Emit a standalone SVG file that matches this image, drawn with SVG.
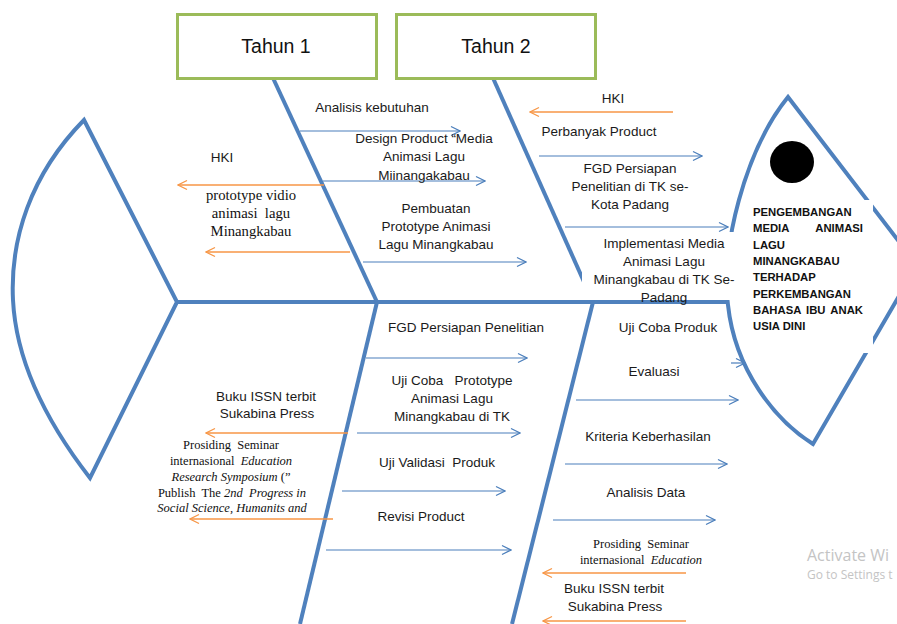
<svg xmlns="http://www.w3.org/2000/svg" width="897" height="624" viewBox="0 0 897 624">
<defs>
<style>
.bone{fill:none;stroke:#4F81BD;stroke-width:4;stroke-linejoin:miter}
.ab{fill:none;stroke:#4a7ebb;stroke-width:1.2}
.ao{fill:none;stroke:#F79646;stroke-width:1.3}
.box{fill:#fff;stroke:#9BBB59;stroke-width:3}
.s{font-family:"Liberation Sans",Arial,sans-serif;font-size:13.5px;fill:#1a1a1a;text-anchor:middle;white-space:pre}
.t{font-family:"Liberation Serif","Times New Roman",serif;font-size:14.7px;fill:#111;text-anchor:middle;white-space:pre}
.p{font-family:"Liberation Serif","Times New Roman",serif;font-size:12.5px;fill:#111;text-anchor:middle;white-space:pre}
.i{font-style:italic}
.h{font-family:"Liberation Sans",Arial,sans-serif;font-size:11.3px;font-weight:bold;fill:#111}
.big{font-family:"Liberation Sans",Arial,sans-serif;font-size:19.5px;fill:#111;text-anchor:middle}
.wm{font-family:"Open Sans","Liberation Sans",sans-serif;fill:#c4c4c4}
</style>
<marker id="mb" markerUnits="userSpaceOnUse" markerWidth="12" markerHeight="12" viewBox="-11 -6 12 12" refX="0" refY="0" orient="auto"><path d="M-9,-4.5 L0,0 L-9,4.5" fill="none" stroke="#4a7ebb" stroke-width="1.2"/></marker>
<marker id="mo" markerUnits="userSpaceOnUse" markerWidth="12" markerHeight="12" viewBox="-11 -6 12 12" refX="0" refY="0" orient="auto"><path d="M-9,-4.5 L0,0 L-9,4.5" fill="none" stroke="#F79646" stroke-width="1.3"/></marker>
</defs>
<rect width="897" height="624" fill="#fff"/>

<g id="tail">
<path class="bone" d="M84,120 C30,175 10,240 13,300 C16,360 45,420 90,478 L177,302 Z"/>
</g>

<g id="connectors">
<line class="bone" x1="175" y1="302" x2="729" y2="302"/>
<line class="bone" x1="273" y1="78" x2="377" y2="302"/>
<line class="bone" x1="377" y1="302" x2="300" y2="624"/>
<line class="bone" x1="493" y1="78" x2="593" y2="302"/>
<line class="bone" x1="593" y1="302" x2="512" y2="624"/>
<line class="ab" x1="300" y1="131" x2="460" y2="131" marker-end="url(#mb)"/>
<line class="ab" x1="323" y1="181" x2="485" y2="181" marker-end="url(#mb)"/>
<line class="ab" x1="363" y1="262" x2="526" y2="262" marker-end="url(#mb)"/>
<line class="ao" x1="324" y1="185" x2="178" y2="185" marker-end="url(#mo)"/>
<line class="ao" x1="350" y1="252" x2="206" y2="252" marker-end="url(#mo)"/>
<line class="ao" x1="673" y1="112" x2="530" y2="112" marker-end="url(#mo)"/>
<line class="ab" x1="539" y1="156" x2="702" y2="156" marker-end="url(#mb)"/>
<line class="ab" x1="565" y1="227" x2="728" y2="227" marker-end="url(#mb)"/>
<line class="ab" x1="366" y1="358" x2="527" y2="358" marker-end="url(#mb)"/>
<line class="ab" x1="357" y1="433" x2="520" y2="433" marker-end="url(#mb)"/>
<line class="ab" x1="342" y1="491" x2="505" y2="491" marker-end="url(#mb)"/>
<line class="ab" x1="326" y1="550" x2="511" y2="550" marker-end="url(#mb)"/>
<line class="ao" x1="348" y1="433" x2="206" y2="433" marker-end="url(#mo)"/>
<line class="ao" x1="333" y1="519" x2="190" y2="519" marker-end="url(#mo)"/>
<line class="ab" x1="731" y1="363" x2="745" y2="363" marker-end="url(#mb)"/>
<line class="ab" x1="576" y1="400" x2="738" y2="400" marker-end="url(#mb)"/>
<line class="ab" x1="565" y1="464" x2="727" y2="464" marker-end="url(#mb)"/>
<line class="ab" x1="553" y1="520" x2="715" y2="520" marker-end="url(#mb)"/>
<line class="ao" x1="686" y1="573" x2="543" y2="573" marker-end="url(#mo)"/>
<line class="ao" x1="686" y1="621" x2="543" y2="621" marker-end="url(#mo)"/>
</g>

<g id="tahun1">
<rect class="box" x="177.5" y="14.5" width="199" height="64"/>
<text class="big" x="276" y="53">Tahun 1</text>
</g>
<g id="tahun2">
<rect class="box" x="396.5" y="14.5" width="199" height="64"/>
<text class="big" x="496" y="53">Tahun 2</text>
</g>

<g id="head">
<path class="bone" d="M788,97 C745,150 720,250 728,305 C735,370 775,420 813,444 L917,265 Z"/>
<ellipse cx="792" cy="162" rx="22" ry="21" fill="#000"/>
<rect x="742" y="200" width="131" height="153" fill="#fff"/>
<text class="h" x="753" y="216">PENGEMBANGAN</text>
<text class="h" x="753" y="232">MEDIA</text>
<text class="h" x="863" y="232" text-anchor="end">ANIMASI</text>
<text class="h" x="753" y="249">LAGU</text>
<text class="h" x="753" y="265">MINANGKABAU</text>
<text class="h" x="753" y="281">TERHADAP</text>
<text class="h" x="753" y="298">PERKEMBANGAN</text>
<text class="h" x="753" y="314">BAHASA</text>
<text class="h" x="806" y="314">IBU</text>
<text class="h" x="863" y="314" text-anchor="end">ANAK</text>
<text class="h" x="753" y="330">USIA DINI</text>
</g>

<g id="t1-upper">
<text class="s" x="372" y="111.5">Analisis kebutuhan</text>
<text class="s" x="424" y="143">Design Product “Media</text>
<text class="s" x="424" y="161">Animasi Lagu</text>
<text class="s" x="424" y="180">Miinangakabau</text>
<text class="s" x="436" y="213">Pembuatan</text>
<text class="s" x="436" y="231">Prototype Animasi</text>
<text class="s" x="436" y="249">Lagu Minangkabau</text>
<text class="s" x="222" y="162">HKI</text>
<text class="t" x="251" y="200">prototype vidio</text>
<text class="t" x="251" y="218">animasi  lagu</text>
<text class="t" x="251" y="236">Minangkabau</text>
</g>

<g id="t2-upper">
<text class="s" x="613" y="102.5">HKI</text>
<text class="s" x="599" y="135.5">Perbanyak Product</text>
<text class="s" x="630" y="172.5">FGD Persiapan</text>
<text class="s" x="630" y="190.5">Penelitian di TK se-</text>
<text class="s" x="630" y="208.5">Kota Padang</text>
<rect x="582" y="232" width="153" height="68" fill="#fff"/>
<text class="s" x="664" y="247.5">Implementasi Media</text>
<text class="s" x="664" y="266">Animasi Lagu</text>
<text class="s" x="664" y="283.5">Minangkabau di TK Se-</text>
<text class="s" x="664" y="301.5">Padang</text>
</g>

<g id="t1-lower">
<text class="s" x="466" y="331.5">FGD Persiapan Penelitian</text>
<text class="s" x="452" y="384.5">Uji Coba   Prototype</text>
<text class="s" x="452" y="402.5">Animasi Lagu</text>
<text class="s" x="452" y="420.5">Minangkabau di TK</text>
<text class="s" x="437" y="466.5">Uji Validasi  Produk</text>
<text class="s" x="421" y="520.5">Revisi Product</text>
<text class="s" x="266" y="400.5">Buku ISSN terbit</text>
<text class="s" x="267" y="417.5">Sukabina Press</text>
<text class="p" x="231" y="449">Prosiding  Seminar</text>
<text class="p" x="231" y="465">internasional  <tspan class="i">Education</tspan></text>
<text class="p" x="231" y="481"><tspan class="i">Research Symposium</tspan> (”</text>
<text class="p" x="232" y="497">Publish  The <tspan class="i">2nd  Progress in</tspan></text>
<text class="p" x="232" y="512"><tspan class="i">Social Science, Humanits and</tspan></text>
</g>

<g id="t2-lower">
<text class="s" x="668" y="331.5">Uji Coba Produk</text>
<text class="s" x="654" y="375.5">Evaluasi</text>
<text class="s" x="648" y="440.5">Kriteria Keberhasilan</text>
<text class="s" x="646" y="496.5">Analisis Data</text>
<text class="p" x="641" y="548">Prosiding  Seminar</text>
<text class="p" x="641" y="564">internasional  <tspan class="i">Education</tspan></text>
<text class="s" x="614" y="592.5">Buku ISSN terbit</text>
<text class="s" x="615" y="610.5">Sukabina Press</text>
</g>

<g id="watermark">
<text class="wm" x="807" y="561" font-size="16">Activate Wi</text>
<text class="wm" x="807" y="579" font-size="12">Go to Settings t</text>
</g>
</svg>
